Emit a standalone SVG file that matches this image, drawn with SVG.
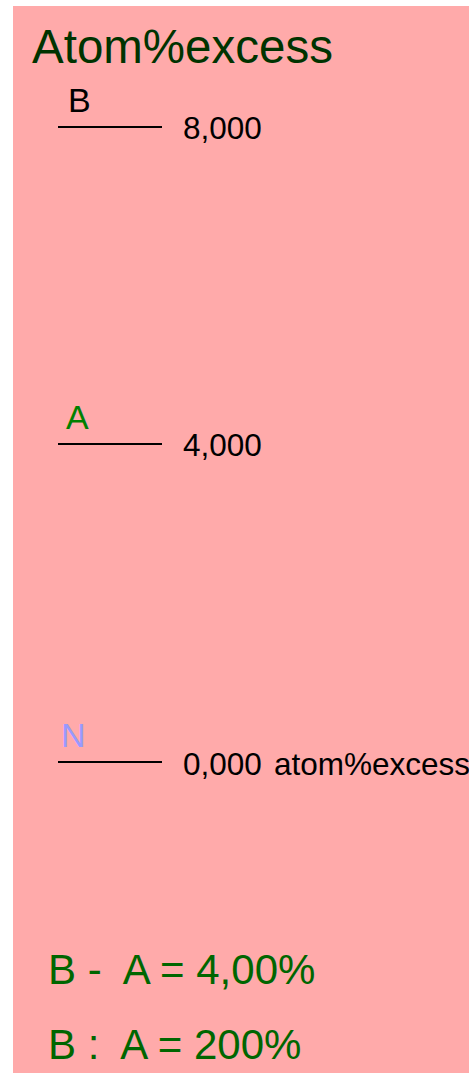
<svg xmlns="http://www.w3.org/2000/svg" width="469" height="1073" viewBox="0 0 469 1073">
<style>
text{font-family:"Liberation Sans",Arial,sans-serif}
.num{font-size:31.5px;fill:#000}
.lbl{font-size:34px}
.res{font-size:42px;fill:#006600}
.tick{stroke:#000;stroke-width:2}
</style>
<rect x="0" y="0" width="469" height="1073" fill="#fff"/>
<rect x="13" y="6" width="456" height="1067" fill="#ffaaaa"/>
<text x="32" y="63" font-size="47.5" fill="#003300">Atom%excess</text>
<g id="B">
<text class="lbl" x="68" y="112" fill="#000">B</text>
<line class="tick" x1="58" y1="127" x2="162" y2="127"/>
<text class="num" x="183" y="139">8,000</text>
</g>
<g id="A">
<text class="lbl" x="66" y="429" fill="#008000">A</text>
<line class="tick" x1="58" y1="444" x2="162" y2="444"/>
<text class="num" x="183" y="456">4,000</text>
</g>
<g id="N">
<text class="lbl" x="61" y="747" fill="#9999ff">N</text>
<line class="tick" x1="58" y1="762" x2="162" y2="762"/>
<text class="num" x="183" y="775">0,000</text>
<text class="num" x="274" y="775">atom%excess</text>
</g>
<g id="results">
<text class="res" x="48" y="984" xml:space="preserve">B -  A = 4,00%</text>
<text class="res" x="48" y="1059" xml:space="preserve">B :  A = 200%</text>
</g>
<g id="connectors"/>
</svg>
